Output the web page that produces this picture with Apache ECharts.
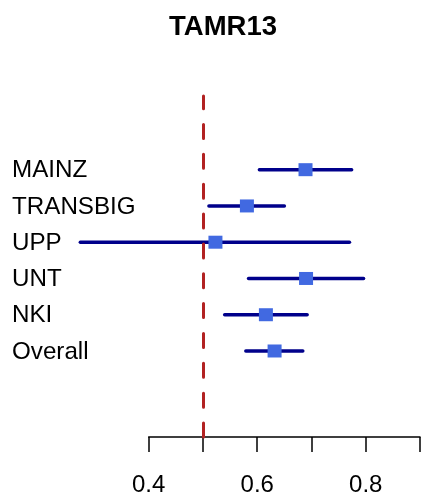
<!DOCTYPE html>
<html>
<head>
<meta charset="utf-8">
<script src="https://cdn.jsdelivr.net/npm/echarts@6/dist/echarts.min.js"></script>
<style>html,body{margin:0;padding:0;background:#fff}#c{width:423px;height:498px}</style>
</head>
<body>
<div id="c"></div>
<script>
const chartTitle = 'TAMR13';
const studies = ['MAINZ', 'TRANSBIG', 'UPP', 'UNT', 'NKI', 'Overall'];
const estimate = [0.689, 0.581, 0.523, 0.690, 0.616, 0.632];
const lower = [0.604, 0.511, 0.274, 0.584, 0.540, 0.579];
const upper = [0.774, 0.650, 0.770, 0.796, 0.692, 0.684];
const rowPos = [6, 5, 4, 3, 2, 1];
const xTickLabels = ['0.4', '', '0.6', '', '0.8', ''];
const refValue = 0.5;

const FONT = '"Liberation Sans", Arial, Helvetica, sans-serif';
const data = studies.map((s, i) => [rowPos[i], lower[i], estimate[i], upper[i], s]);

const chart = echarts.init(document.getElementById('c'), null, {renderer: 'canvas'});
chart.setOption({
  animation: false,
  backgroundColor: '#fff',
  title: {
    text: chartTitle, left: 218, top: 8, textAlign: 'center',
    textStyle: {fontFamily: FONT, fontSize: 27.5, fontWeight: 'bold', color: '#000'}
  },
  grid: {left: 148.7, right: 1.3, top: 96, bottom: 61, containLabel: false},
  xAxis: {
    type: 'value', min: 0.4, max: 0.9, interval: 0.1,
    axisLine: {show: true, onZero: false, lineStyle: {color: '#000', width: 1.5}},
    axisTick: {show: true, length: 15, lineStyle: {color: '#000', width: 1.5}},
    splitLine: {show: false},
    axisLabel: {
      margin: 36, fontFamily: FONT, fontSize: 24, color: '#000',
      showMinLabel: true, showMaxLabel: true,
      formatter: (v) => xTickLabels[Math.round((v - 0.4) / 0.1)] || ''
    }
  },
  yAxis: {
    type: 'value', min: -1.372, max: 8.032,
    show: false, splitLine: {show: false}
  },
  series: [{
    type: 'custom',
    clip: false,
    data: data,
    encode: {x: [1, 2, 3], y: 0},
    renderItem: function (params, api) {
      const y = api.value(0);
      const pLo = api.coord([api.value(1), y]);
      const pPt = api.coord([api.value(2), y]);
      const pHi = api.coord([api.value(3), y]);
      const w = 14, h = 13;
      return {
        type: 'group',
        children: [
          {type: 'line', shape: {x1: pLo[0], y1: pLo[1], x2: pHi[0], y2: pHi[1]},
           style: {stroke: '#00008B', lineWidth: 3.5, lineCap: 'round'}},
          {type: 'rect', shape: {x: pPt[0] - w / 2, y: pPt[1] - h / 2, width: w, height: h},
           style: {fill: '#4169E1'}},
          {type: 'text', x: 12, y: pPt[1] + 1,
           style: {text: api.value(4), fontFamily: FONT, fontSize: 24.2, fill: '#000',
                   textAlign: 'left', textVerticalAlign: 'middle', verticalAlign: 'middle'}}
        ]
      };
    },
    markLine: {
      silent: true, symbol: 'none', z: 10,
      label: {show: false},
      lineStyle: {color: '#B22222', width: 3, type: [14, 15.85], cap: 'round'},
      data: [{xAxis: refValue}]
    }
  }]
});
</script>
</body>
</html>
